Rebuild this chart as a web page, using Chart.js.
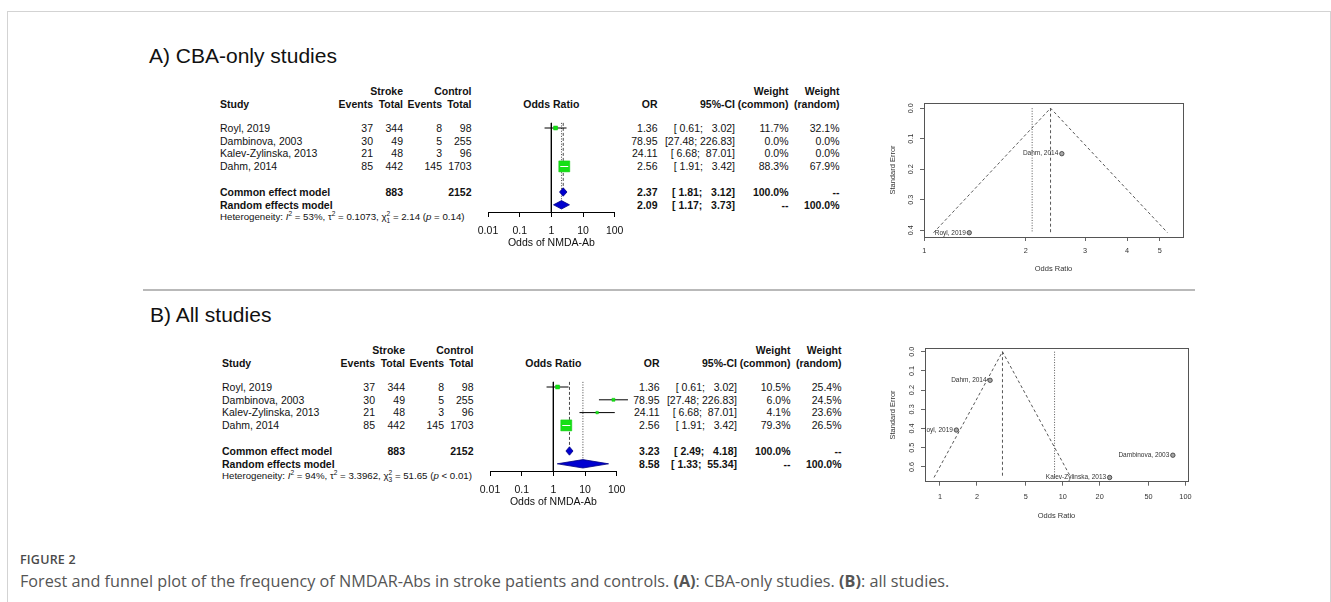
<!DOCTYPE html>
<html><head><meta charset="utf-8">
<script src="https://cdn.jsdelivr.net/npm/chart.js@4.4.1/dist/chart.umd.min.js"></script>
<style>
html,body{margin:0;padding:0;background:#fff;}
body{position:relative;width:1331px;height:602px;overflow:hidden;font-family:"Liberation Sans",Arial,Helvetica,sans-serif;}
#frame{position:absolute;left:7px;top:11px;width:1322px;height:640px;border:1px solid #d3d3d3;border-bottom:none;}
#sep{position:absolute;left:143px;top:289px;width:1052px;height:2px;background:#b9b9b9;}
.t{position:absolute;white-space:pre;color:#121212;}
.b{font-weight:bold;}
.ttl{position:absolute;font-size:21px;line-height:21px;color:#111;white-space:pre;}
canvas{position:absolute;}
.sup2{font-size:6.6px;position:relative;top:-4px;}
.sub2{font-size:6.6px;position:relative;top:2.5px;margin-left:-3.7px;}
#figlab{position:absolute;left:20px;top:554px;font-family:"Open Sans",sans-serif;font-size:12.5px;line-height:12.5px;font-weight:600;color:#4a4a4a;letter-spacing:0.2px;white-space:pre;}
#caption{position:absolute;left:20px;top:574px;font-family:"Open Sans",sans-serif;font-size:15px;line-height:15px;color:#555;white-space:pre;}
</style></head><body>
<div id="frame"></div><div id="sep"></div>
<div id="figlab">FIGURE 2</div>
<div id="caption">Forest and funnel plot of the frequency of NMDAR-Abs in stroke patients and controls. <b>(A)</b>: CBA-only studies. <b>(B)</b>: all studies.</div>
<script>
// ---------------- DATA ----------------
const studyLabels = ["Royl, 2019", "Dambinova, 2003", "Kalev-Zylinska, 2013", "Dahm, 2014"];
const strokeEvents = [37, 30, 21, 85];
const strokeTotals = [344, 49, 48, 442];
const controlEvents = [8, 5, 3, 145];
const controlTotals = [98, 255, 96, 1703];
const oddsRatios = [1.36, 78.95, 24.11, 2.56];
const ciLower = [0.61, 27.48, 6.68, 1.91];
const ciUpper = [3.02, 226.83, 87.01, 3.42];
const standardErrors = [0.408, 0.539, 0.655, 0.149];
const pooledTotals = [883, 2152];
const weightCommonA = [11.7, 0.0, 0.0, 88.3];
const weightRandomA = [32.1, 0.0, 0.0, 67.9];
const weightCommonB = [10.5, 6.0, 4.1, 79.3];
const weightRandomB = [25.4, 24.5, 23.6, 26.5];
const commonEffectA = [2.37, 1.81, 3.12];
const randomEffectA = [2.09, 1.17, 3.73];
const commonEffectB = [3.23, 2.49, 4.18];
const randomEffectB = [8.58, 1.33, 55.34];
const heterogeneityI2 = ["53%", "94%"];
const heterogeneityTau2 = ["0.1073", "3.3962"];
const heterogeneityChi2 = ["2.14", "51.65"];
const heterogeneityDf = ["1", "3"];
const heterogeneityP = ["= 0.14", "< 0.01"];
const forestTicks = [0.01, 0.1, 1, 10, 100];
const forestTickLabels = ["0.01", "0.1", "1", "10", "100"];
const funnelXTicksA = [1, 2, 3, 4, 5];
const funnelXTicksB = [1, 2, 5, 10, 20, 50, 100];
const funnelYTicksA = [0, 0.1, 0.2, 0.3, 0.4];
const funnelYTicksB = [0, 0.1, 0.2, 0.3, 0.4, 0.5, 0.6];
const panelTitles = ["A) CBA-only studies", "B) All studies"];

// ---------------- LAYOUT ----------------
const FONT = '"Liberation Sans", Arial, Helvetica, sans-serif';
Chart.defaults.font.family = FONT;
Chart.defaults.color = '#222';

const panels = [
  {dx: 0, dy: 0, titleX: 149, wc: weightCommonA, wr: weightRandomA, ce: commonEffectA, re: randomEffectA, k: 0,
   funnel: {left: 880, top: 85, boxL: 924, boxR: 1183, boxT: 103, boxB: 237, xmin: 0.998, xmax: 5.86, ymin: -0.017, ymax: 0.422,
            xt: funnelXTicksA, yt: funnelYTicksA, tickGap: 14, titleGap: 32, yTickGap: 13.3, yTitleGap: 31}},
  {dx: 2, dy: 259, titleX: 150, wc: weightCommonB, wr: weightRandomB, ce: commonEffectB, re: randomEffectB, k: 1,
   funnel: {left: 880, top: 330, boxL: 925, boxR: 1188, boxT: 348.3, boxB: 481.7, xmin: 0.755, xmax: 104.9, ymin: -0.0177, ymax: 0.677,
            xt: funnelXTicksB, yt: funnelYTicksB, tickGap: 15.3, titleGap: 34.3, yTickGap: 13.3, yTitleGap: 32.3}}
];

function mkText(content, x, yc, o = {}) {
  const fs = o.fs || 10.5;
  const d = document.createElement('div');
  d.className = 't' + (o.bold ? ' b' : '');
  d.style.fontSize = fs + 'px';
  d.style.lineHeight = fs + 'px';
  d.style.left = x + 'px';
  d.style.top = (yc - 0.4865 * fs) + 'px';
  if (o.align === 'right') d.style.transform = 'translateX(-100%)';
  else if (o.align === 'center') d.style.transform = 'translateX(-50%)';
  if (o.html) d.innerHTML = content; else d.textContent = content;
  document.body.appendChild(d);
}
function padL(s, n) { while (s.length < n) s = ' ' + s; return s; }
function ciStrings(lo, hi) {
  const L = lo.map(v => v.toFixed(2)), H = hi.map(v => v.toFixed(2));
  const wl = Math.max(...L.map(s => s.length)), wh = Math.max(...H.map(s => s.length));
  return L.map((l, i) => '[' + padL(l, wl) + '; ' + padL(H[i], wh) + ']');
}
const measCtx = document.createElement('canvas').getContext('2d');
function textWidth(s, size) { measCtx.font = size + 'px ' + FONT; return measCtx.measureText(s).width; }

const col = {study: 220, sEv: 373, sTot: 403, cEv: 442, cTot: 471.5, forestC: 551.3, or: 657.5, ci: 735, wc: 788.5, wr: 839.5};
const rowY = (p, r) => 128 + (r - 1) * 12.8 + p.dy;

function buildTable(p) {
  const X = v => v + p.dx;
  const t = document.createElement('div');
  t.className = 'ttl'; t.textContent = panelTitles[p.k];
  t.style.left = p.titleX + 'px'; t.style.top = (62.7 + p.dy - 0.8465 * 21) + 'px';
  document.body.appendChild(t);
  const y1 = 91 + p.dy, y2 = 104 + p.dy;
  mkText('Stroke', X(col.sTot), y1, {bold: true, align: 'right'});
  mkText('Control', X(col.cTot), y1, {bold: true, align: 'right'});
  mkText('Weight', X(col.wc), y1, {bold: true, align: 'right'});
  mkText('Weight', X(col.wr), y1, {bold: true, align: 'right'});
  mkText('Study', X(col.study), y2, {bold: true});
  mkText('Events', X(col.sEv), y2, {bold: true, align: 'right'});
  mkText('Total', X(col.sTot), y2, {bold: true, align: 'right'});
  mkText('Events', X(col.cEv), y2, {bold: true, align: 'right'});
  mkText('Total', X(col.cTot), y2, {bold: true, align: 'right'});
  mkText('Odds Ratio', X(col.forestC), y2, {bold: true, align: 'center'});
  mkText('OR', X(col.or), y2, {bold: true, align: 'right'});
  mkText('95%-CI', X(col.ci), y2, {bold: true, align: 'right'});
  mkText('(common)', X(col.wc), y2, {bold: true, align: 'right'});
  mkText('(random)', X(col.wr), y2, {bold: true, align: 'right'});
  const cis = ciStrings(ciLower.concat([p.ce[1], p.re[1]]), ciUpper.concat([p.ce[2], p.re[2]]));
  studyLabels.forEach((s, i) => {
    const y = rowY(p, i + 1);
    mkText(s, X(col.study), y);
    mkText(String(strokeEvents[i]), X(col.sEv), y, {align: 'right'});
    mkText(String(strokeTotals[i]), X(col.sTot), y, {align: 'right'});
    mkText(String(controlEvents[i]), X(col.cEv), y, {align: 'right'});
    mkText(String(controlTotals[i]), X(col.cTot), y, {align: 'right'});
    mkText(oddsRatios[i].toFixed(2), X(col.or), y, {align: 'right'});
    mkText(cis[i], X(col.ci), y, {align: 'right'});
    mkText(p.wc[i].toFixed(1) + '%', X(col.wc), y, {align: 'right'});
    mkText(p.wr[i].toFixed(1) + '%', X(col.wr), y, {align: 'right'});
  });
  let y = rowY(p, 6);
  mkText('Common effect model', X(col.study), y, {bold: true});
  mkText(String(pooledTotals[0]), X(col.sTot), y, {bold: true, align: 'right'});
  mkText(String(pooledTotals[1]), X(col.cTot), y, {bold: true, align: 'right'});
  mkText(p.ce[0].toFixed(2), X(col.or), y, {bold: true, align: 'right'});
  mkText(cis[4], X(col.ci), y, {bold: true, align: 'right'});
  mkText('100.0%', X(col.wc), y, {bold: true, align: 'right'});
  mkText('--', X(col.wr), y, {bold: true, align: 'right'});
  y = rowY(p, 7);
  mkText('Random effects model', X(col.study), y, {bold: true});
  mkText(p.re[0].toFixed(2), X(col.or), y, {bold: true, align: 'right'});
  mkText(cis[5], X(col.ci), y, {bold: true, align: 'right'});
  mkText('--', X(col.wc), y, {bold: true, align: 'right'});
  mkText('100.0%', X(col.wr), y, {bold: true, align: 'right'});
  y = rowY(p, 8) - 0.5;
  const k = p.k;
  mkText('Heterogeneity: <i>I</i><span class="sup2">2</span> = ' + heterogeneityI2[k] + ', \u03c4<span class="sup2">2</span> = ' +
         heterogeneityTau2[k] + ', \u03c7<span class="sup2">2</span><span class="sub2">' + heterogeneityDf[k] + '</span> = ' +
         heterogeneityChi2[k] + ' (<i>p</i> ' + heterogeneityP[k] + ')', X(col.study), y, {html: true, fs: 9.7});
}

function forestPlugin(p, inc, sides) {
  return {
    id: 'forestExtras' + p.k,
    afterDatasetsDraw(chart) {
      const {ctx, scales: {x, y}} = chart;
      ctx.save();
      inc.forEach((i, j) => {
        const s = sides[j];
        if (s < 6) return;
        const cx = x.getPixelForValue(oddsRatios[i]), cy = y.getPixelForValue(i + 1);
        const a = Math.max(x.getPixelForValue(ciLower[i]), cx - s / 2 + 0.5);
        const b = Math.min(x.getPixelForValue(ciUpper[i]), cx + s / 2 - 0.5);
        ctx.strokeStyle = '#fff'; ctx.lineWidth = 1;
        ctx.beginPath(); ctx.moveTo(a, Math.round(cy) + 0.5); ctx.lineTo(b, Math.round(cy) + 0.5); ctx.stroke();
      });
      [[p.ce, 6], [p.re, 7]].forEach(([est, row]) => {
        const xl = x.getPixelForValue(est[1]), xc = x.getPixelForValue(est[0]), xr = x.getPixelForValue(est[2]);
        const yc = y.getPixelForValue(row);
        ctx.beginPath();
        ctx.moveTo(xl, yc); ctx.lineTo(xc, yc - 4.2); ctx.lineTo(xr, yc); ctx.lineTo(xc, yc + 4.2); ctx.closePath();
        ctx.fillStyle = '#0000d0'; ctx.fill();
        ctx.strokeStyle = '#000080'; ctx.lineWidth = 0.8; ctx.stroke();
      });
      ctx.restore();
    }
  };
}

function buildForest(p) {
  const cv = document.createElement('canvas');
  const left = 455 + p.dx, top = 110 + p.dy, cw = 200, ch = 150;
  cv.width = cw; cv.height = ch;
  Object.assign(cv.style, {left: left + 'px', top: top + 'px', width: cw + 'px', height: ch + 'px'});
  document.body.appendChild(cv);
  const inc = studyLabels.map((_, i) => i).filter(i => p.wc[i] > 0);
  const maxW = Math.max(...p.wc);
  const sides = inc.map(i => 11 * Math.sqrt(p.wc[i] / maxW));
  const yMax = 7.5625;
  const lineDs = (pts, extra) => Object.assign({type: 'line', data: pts, borderColor: '#000', borderWidth: 1,
    pointRadius: 0, pointHoverRadius: 0, fill: false, tension: 0, clip: false}, extra);
  const datasets = [
    {type: 'scatter', data: inc.map(i => ({x: oddsRatios[i], y: i + 1})), pointStyle: 'rect',
     pointRadius: sides.map(s => s / Math.SQRT2), pointHoverRadius: sides.map(s => s / Math.SQRT2),
     backgroundColor: '#14e014', borderColor: '#10c810', borderWidth: 0.5, order: 1, clip: false},
    ...inc.map(i => lineDs([{x: ciLower[i], y: i + 1}, {x: ciUpper[i], y: i + 1}], {order: 2})),
    lineDs([{x: 1, y: 0.6}, {x: 1, y: yMax}], {order: 3}),
    lineDs([{x: p.ce[0], y: 0.6}, {x: p.ce[0], y: 6}], {order: 3, borderDash: [3, 2], borderWidth: 0.9, borderColor: '#333'}),
    lineDs([{x: p.re[0], y: 0.6}, {x: p.re[0], y: 7}], {order: 3, borderDash: [1, 1.6], borderWidth: 0.9, borderColor: '#333'})
  ];
  const axisH = 37.3;
  new Chart(cv, {
    type: 'scatter',
    data: {datasets},
    options: {
      responsive: false, animation: false, events: [], devicePixelRatio: 1,
      layout: {padding: {left: 33, right: cw - (614.7 - 455), top: 11.6, bottom: ch - 11.6 - 90.4 - axisH}},
      plugins: {legend: {display: false}, tooltip: {enabled: false}},
      scales: {
        x: {type: 'logarithmic', min: 0.01, max: 100, bounds: 'data', position: 'bottom',
            afterBuildTicks: s => { s.ticks = forestTicks.map(v => ({value: v})); },
            afterFit: s => { s.height = axisH; },
            ticks: {autoSkip: false, minRotation: 0, maxRotation: 0, padding: 7.7, color: '#111', font: {size: 10.5},
                    callback: v => forestTickLabels[forestTicks.indexOf(v)]},
            grid: {drawOnChartArea: false, drawTicks: true, tickLength: 5, color: '#000', lineWidth: 1},
            border: {display: true, color: '#000', width: 1},
            title: {display: true, text: 'Odds of NMDA-Ab', color: '#111', font: {size: 10.5}, padding: {top: 0, bottom: 0}}},
        y: {type: 'linear', display: false, reverse: true, min: 0.5, max: yMax, bounds: 'data'}
      }
    },
    plugins: [forestPlugin(p, inc, sides)]
  });
}

function funnelPlugin(p, inc) {
  return {
    id: 'funnelExtras' + p.k,
    beforeDatasetsDraw(chart) {
      const {ctx, chartArea: a} = chart;
      ctx.save(); ctx.strokeStyle = '#555'; ctx.lineWidth = 1;
      ctx.strokeRect(Math.round(a.left) + 0.5, Math.round(a.top) + 0.5, Math.round(a.right - a.left), Math.round(a.bottom - a.top));
      ctx.restore();
    },
    afterDatasetsDraw(chart) {
      const {ctx, chartArea: a} = chart;
      const meta = chart.getDatasetMeta(0);
      ctx.save();
      ctx.beginPath(); ctx.rect(a.left, a.top, a.right - a.left, a.bottom - a.top); ctx.clip();
      ctx.font = '6.5px ' + FONT;
      ctx.fillStyle = '#333'; ctx.textAlign = 'right'; ctx.textBaseline = 'middle';
      meta.data.forEach((el, j) => { ctx.fillText(studyLabels[inc[j]], el.x - 3.5, el.y); });
      ctx.restore();
    }
  };
}

function buildFunnel(p) {
  const f = p.funnel;
  const tickFs = 7.3, titleFs = 7.5;
  const W = f.boxL - f.left, H = f.titleGap + titleFs * 0.6;
  const cw = Math.ceil(f.boxR - f.left + 17);
  const ch = Math.ceil(f.boxB - f.top + H + 4);
  const cv = document.createElement('canvas');
  cv.width = cw; cv.height = ch;
  Object.assign(cv.style, {left: f.left + 'px', top: f.top + 'px', width: cw + 'px', height: ch + 'px'});
  document.body.appendChild(cv);
  const inc = studyLabels.map((_, i) => i).filter(i => p.wc[i] > 0);
  const seMax = Math.max(...inc.map(i => standardErrors[i]));
  const c = p.ce[0], r = p.re[0];
  const widest = Math.max(...f.yt.map(v => textWidth(v.toFixed(1), tickFs)));
  const lineDs = (pts, extra) => Object.assign({type: 'line', data: pts, borderColor: '#444', borderWidth: 0.9,
    pointRadius: 0, pointHoverRadius: 0, fill: false, tension: 0}, extra);
  const datasets = [
    {type: 'scatter', data: inc.map(i => ({x: oddsRatios[i], y: standardErrors[i]})), pointStyle: 'circle',
     pointRadius: 2.2, pointHoverRadius: 2.2, backgroundColor: '#a8a8a8', borderColor: '#333', borderWidth: 0.8, order: 1},
    lineDs([{x: Math.exp(Math.log(c) - 1.96 * seMax), y: seMax}, {x: c, y: 0}, {x: Math.exp(Math.log(c) + 1.96 * seMax), y: seMax}],
           {borderDash: [3, 2.5], order: 2}),
    lineDs([{x: c, y: 0}, {x: c, y: seMax}], {borderDash: [3, 2.5], order: 2}),
    lineDs([{x: r, y: 0}, {x: r, y: seMax}], {borderDash: [1, 1.6], order: 2})
  ];
  new Chart(cv, {
    type: 'scatter',
    data: {datasets},
    options: {
      responsive: false, animation: false, events: [], devicePixelRatio: 1,
      layout: {padding: {left: 0, right: cw - (f.boxR - f.left), top: f.boxT - f.top, bottom: ch - (f.boxB - f.top) - H}},
      plugins: {legend: {display: false}, tooltip: {enabled: false}},
      scales: {
        x: {type: 'logarithmic', min: f.xmin, max: f.xmax, bounds: 'data', position: 'bottom',
            afterBuildTicks: s => { s.ticks = f.xt.map(v => ({value: v})); },
            afterFit: s => { s.height = H; },
            ticks: {autoSkip: false, minRotation: 0, maxRotation: 0, padding: f.tickGap - 4 - tickFs * 0.6, color: '#333',
                    font: {size: tickFs}, callback: v => String(v)},
            grid: {drawOnChartArea: false, drawTicks: true, tickLength: 4, color: '#555', lineWidth: 0.9},
            border: {display: false},
            title: {display: true, text: 'Odds Ratio', color: '#333', font: {size: titleFs}, padding: {top: 0, bottom: 0}}},
        y: {type: 'linear', reverse: true, min: f.ymin, max: f.ymax, bounds: 'data', position: 'left',
            afterBuildTicks: s => { s.ticks = f.yt.map(v => ({value: v})); },
            afterFit: s => { s.width = W; },
            ticks: {autoSkip: false, minRotation: 90, maxRotation: 90, crossAlign: 'center',
                    padding: f.yTickGap - 4 - widest / 2, color: '#333',
                    font: {size: tickFs}, callback: v => Number(v).toFixed(1)},
            grid: {drawOnChartArea: false, drawTicks: true, tickLength: 4, color: '#555', lineWidth: 0.9},
            border: {display: false},
            title: {display: true, text: 'Standard Error', color: '#333', font: {size: titleFs},
                    padding: {top: (f.boxL - f.yTitleGap - f.left) - titleFs * 0.6, bottom: 0}}}
      }
    },
    plugins: [funnelPlugin(p, inc)]
  });
}

panels.forEach(p => { buildTable(p); buildForest(p); buildFunnel(p); });

const cap = document.getElementById('caption');
const cw0 = cap.getBoundingClientRect().width;
cap.style.fontSize = (15 * 930 / cw0).toFixed(2) + 'px';
</script>
</body></html>
